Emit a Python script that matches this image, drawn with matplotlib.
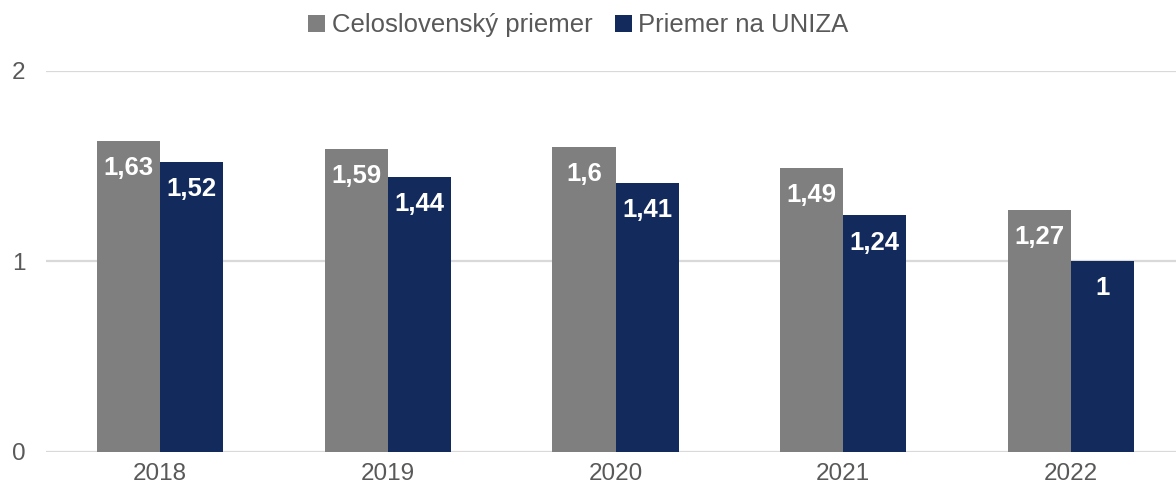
import matplotlib
matplotlib.use("Agg")
import matplotlib.pyplot as plt
import numpy as np

years = ["2018", "2019", "2020", "2021", "2022"]
slovak_avg = [1.63, 1.59, 1.60, 1.49, 1.27]
uniza_avg = [1.52, 1.44, 1.41, 1.24, 1.00]
series_names = ["Celoslovenský priemer", "Priemer na UNIZA"]
labels_sk = ["1,63", "1,59", "1,6", "1,49", "1,27"]
labels_un = ["1,52", "1,44", "1,41", "1,24", "1"]

plt.rcParams['font.family'] = ['Liberation Sans', 'DejaVu Sans']

fig = plt.figure(figsize=(11.76, 4.91), dpi=100)
left_px, right_px, top_px, bot_px = 46, 1185, 70.7, 451.7
ax = fig.add_axes([left_px/1176, 1-bot_px/491, (right_px-left_px)/1176, (bot_px-top_px)/491])

x = np.arange(len(years))
w = 0.277
gray = "#7f7f7f"
navy = "#132a5c"
b1 = ax.bar(x - w/2, slovak_avg, w, color=gray, label=series_names[0], zorder=3)
b2 = ax.bar(x + w/2, uniza_avg, w, color=navy, label=series_names[1], zorder=3)

for bars, labs in ((b1, labels_sk), (b2, labels_un)):
    for r, lab in zip(bars, labs):
        ax.annotate(lab, (r.get_x() + r.get_width()/2, r.get_height()),
                    xytext=(0, -19.5), textcoords="offset points",
                    ha="center", va="center", color="white",
                    fontsize=18.5, fontweight="bold", zorder=4)

ax.set_xlim(-0.5, len(years) - 0.5)
ax.set_ylim(0, 2)
ax.set_yticks([0, 1, 2])
ax.set_yticklabels(["0", "1", "2"])
ax.set_xticks(x)
ax.set_xticklabels(years)
ax.tick_params(axis="both", length=0, labelsize=17.5, colors="#595959")
ax.tick_params(axis="y", pad=15)
ax.tick_params(axis="x", pad=8)
ax.grid(axis="y", color="#d9d9d9", linewidth=1.6, zorder=0)
for s in ax.spines.values():
    s.set_visible(False)

leg = fig.legend(loc="upper center", bbox_to_anchor=(0.492, 1.02), ncol=2,
                 frameon=False, fontsize=18.5, handlelength=0.65, handleheight=0.65,
                 handletextpad=0.25, columnspacing=0.9, labelcolor="#595959")

fig.savefig("out.png", dpi=100)
